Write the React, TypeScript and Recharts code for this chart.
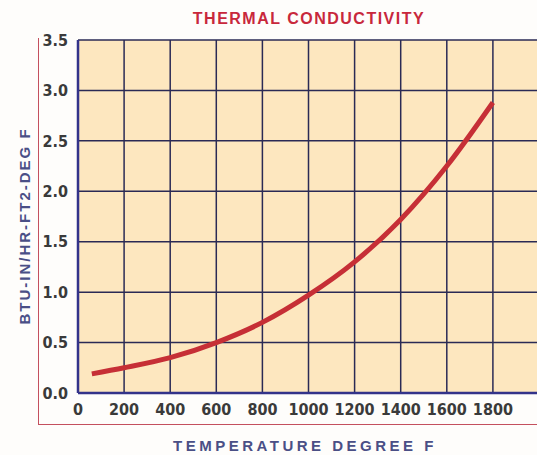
import { LineChart, Line, XAxis, YAxis, CartesianGrid } from "recharts";

const temperatures = [60, 200, 400, 600, 800, 1000, 1200, 1400, 1600, 1800];
const conductivity = [0.19, 0.25, 0.35, 0.5, 0.7, 0.97, 1.3, 1.72, 2.25, 2.88];
const xTicks = [0, 200, 400, 600, 800, 1000, 1200, 1400, 1600, 1800, 2000];
const yTicks = [0, 0.5, 1, 1.5, 2, 2.5, 3, 3.5];

const data = temperatures.map((t, i) => ({ temp: t, k: conductivity[i] }));

const tickFont = {
  fontFamily: "'Liberation Sans Narrow', 'DejaVu Sans Condensed', sans-serif",
  fontSize: 16,
  fontWeight: "bold",
  fill: "#3a3a3a",
};

export default function App() {
  return (
    <div
      style={{
        position: "absolute",
        left: 0,
        top: 0,
        width: 537,
        height: 455,
        overflow: "hidden",
        background: "#fefdfb",
      }}
    >
      <div
        style={{
          position: "absolute",
          left: 0,
          top: 10,
          width: 618,
          textAlign: "center",
          fontFamily: "'Liberation Sans Narrow', sans-serif",
          fontWeight: "bold",
          fontSize: 16,
          letterSpacing: 1.5,
          color: "#c8283c",
        }}
      >
        THERMAL CONDUCTIVITY
      </div>
      <div
        style={{
          position: "absolute",
          left: 38,
          top: 38,
          width: 510,
          height: 386,
          borderLeft: "1.5px solid #c4505e",
          borderBottom: "1.5px solid #c4505e",
        }}
      />
      <div
        style={{
          position: "absolute",
          left: 24,
          top: 226,
          transform: "translate(-50%, -50%) rotate(-90deg)",
          whiteSpace: "nowrap",
          fontFamily: "'Liberation Sans', sans-serif",
          fontWeight: "bold",
          fontSize: 15,
          letterSpacing: 2,
          color: "#4a4f86",
        }}
      >
        BTU-IN/HR-FT2-DEG F
      </div>
      <div
        style={{
          position: "absolute",
          left: 0,
          top: 437,
          width: 610,
          textAlign: "center",
          fontFamily: "'Liberation Sans', sans-serif",
          fontWeight: "bold",
          fontSize: 15,
          letterSpacing: 3.5,
          color: "#4a4f86",
        }}
      >
        TEMPERATURE DEGREE F
      </div>
      <div style={{ position: "absolute", left: 0, top: 0 }}>
        <LineChart
          width={540}
          height={455}
          data={data}
          margin={{ top: 40, right: 1, left: 38, bottom: 32 }}
        >
          <CartesianGrid
            fill="#fde7bf"
            stroke="#2a2a55"
            strokeWidth={1.5}
            horizontalValues={yTicks}
            verticalValues={xTicks}
          />
          <XAxis
            dataKey="temp"
            type="number"
            domain={[0, 2000]}
            ticks={xTicks}
            height={30}
            tickSize={0}
            tickMargin={11}
            tick={tickFont}
            tickFormatter={(v: number) => (v >= 2000 ? "" : String(v))}
            axisLine={{ stroke: "#33338a", strokeWidth: 2.5 }}
            interval={0}
          />
          <YAxis
            type="number"
            domain={[0, 3.5]}
            ticks={yTicks}
            width={40}
            tickSize={0}
            tickMargin={10}
            tick={tickFont}
            tickFormatter={(v: number) => v.toFixed(1)}
            axisLine={{ stroke: "#33338a", strokeWidth: 2.5 }}
            interval={0}
          />
          <Line
            type="monotone"
            dataKey="k"
            stroke="#c62f36"
            strokeWidth={5}
            dot={false}
            isAnimationActive={false}
          />
        </LineChart>
      </div>
    </div>
  );
}
